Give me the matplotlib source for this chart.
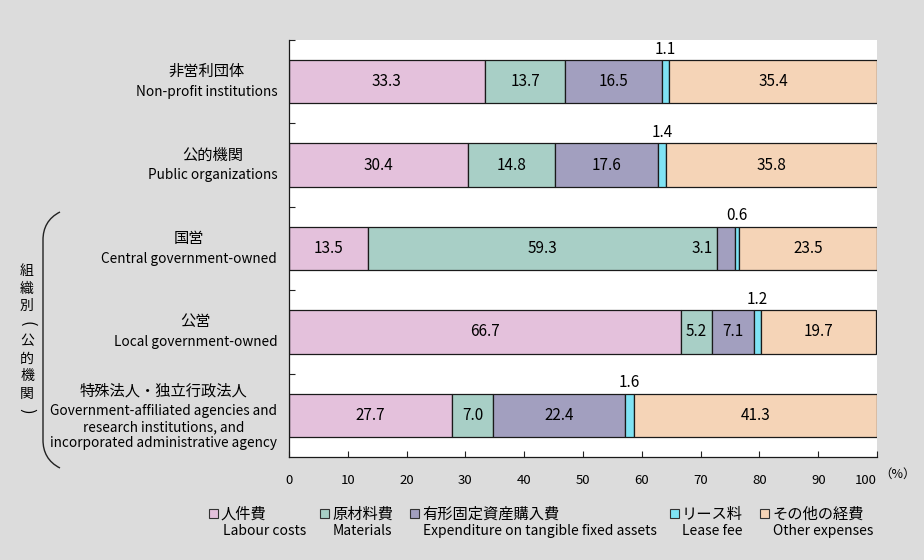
import matplotlib
matplotlib.use("Agg")
import matplotlib.pyplot as plt
from matplotlib.patches import Rectangle, PathPatch
from matplotlib.path import Path

plt.rcParams['font.family'] = ['Noto Sans CJK JP', 'DejaVu Sans']

categories_jp = ["非営利団体", "公的機関", "国営", "公営", "特殊法人・独立行政法人"]
categories_en = ["Non-profit institutions", "Public organizations",
                 "Central government-owned", "Local government-owned",
                 "Government-affiliated agencies and\nresearch institutions, and\nincorporated administrative agency"]
labour = [33.3, 30.4, 13.5, 66.7, 27.7]
materials = [13.7, 14.8, 59.3, 5.2, 7.0]
fixed_assets = [16.5, 17.6, 3.1, 7.1, 22.4]
lease = [1.1, 1.4, 0.6, 1.2, 1.6]
other = [35.4, 35.8, 23.5, 19.7, 41.3]
series_jp = ["人件費", "原材料費", "有形固定資産購入費", "リース料", "その他の経費"]
series_en = ["Labour costs", "Materials", "Expenditure on tangible fixed assets",
             "Lease fee", "Other expenses"]
colors = ["#e4c1dc", "#a8cfc6", "#a29fbf", "#7fe3f4", "#f5d4b7"]
xticks = [0, 10, 20, 30, 40, 50, 60, 70, 80, 90, 100]
group_label = "組織別(公的機関)"

W, H = 924, 560
PX = 72 / 100  # points per pixel at dpi 100
fig = plt.figure(figsize=(W / 100, H / 100), dpi=100, facecolor="#dcdcdc")
ax = fig.add_axes([289 / W, 1 - 457 / H, 588 / W, 417 / H])
ax.set_facecolor("white")

series = [labour, materials, fixed_assets, lease, other]
ypos = list(range(len(categories_jp)))
left = [0.0] * len(ypos)
for k, vals in enumerate(series):
    ax.barh(ypos, vals, left=left, height=0.52, color=colors[k],
            edgecolor="#1a1a1a", linewidth=0.9, zorder=2)
    for i, v in enumerate(vals):
        cx = left[i] + v / 2
        if k == 3:  # lease fee: label above the bar
            ax.text(cx, i - 0.39, f"{v:.1f}", ha="center", va="center", fontsize=11)
        elif v < 4:  # narrow segment: label to the left
            ax.text(left[i] - 0.8, i, f"{v:.1f}", ha="right", va="center", fontsize=11)
        else:
            ax.text(cx, i, f"{v:.1f}", ha="center", va="center", fontsize=11)
    left = [a + b for a, b in zip(left, vals)]

ax.set_xlim(0, 100)
ax.set_ylim(len(ypos) - 0.5, -0.5)
ax.set_xticks(xticks)
ax.set_xticklabels([str(t) for t in xticks], fontsize=9.5)
ax.get_xticklabels()[-1].set_horizontalalignment("right")
ax.set_yticks([y - 0.5 for y in ypos])
ax.set_yticklabels([])
ax.tick_params(axis="both", direction="in", length=4, width=0.8, color="#222222")
ax.tick_params(axis="x", pad=12)
for s in ("top", "right"):
    ax.spines[s].set_visible(False)
for s in ("left", "bottom"):
    ax.spines[s].set_color("#1a1a1a")
    ax.spines[s].set_linewidth(0.9)
ax.text(879 / W, 1 - 474 / H, "（%）", transform=fig.transFigure, fontsize=9,
        va="center", ha="left")

# category labels: english block right-aligned, japanese centred above it
renderer = fig.canvas.get_renderer()
for i in ypos:
    n_en = categories_en[i].count("\n") + 1
    en_down = 10 + (n_en - 1)
    jp_up = 10 + 7 * (n_en - 1)
    en = ax.annotate(categories_en[i], xy=(-0.02, i), xycoords=ax.get_yaxis_transform(),
                     xytext=(0, -en_down * PX), textcoords="offset points",
                     ha="right", va="center", multialignment="center",
                     fontsize=9.8, linespacing=1.2)
    bb = en.get_window_extent(renderer=renderer)
    cx = ax.transAxes.inverted().transform(((bb.x0 + bb.x1) / 2, 0))[0]
    ax.annotate(categories_jp[i], xy=(cx, i), xycoords=ax.get_yaxis_transform(),
                xytext=(0, jp_up * PX), textcoords="offset points",
                ha="center", va="center", fontsize=11)

# vertical group label (one character per line, brackets turned) and brace
n = len(group_label)
for j, ch in enumerate(group_label):
    turned = ch in "()"
    fig.text(27 / W, 1 - (341 + (j - (n - 1) / 2) * 17.5) / H, ch, ha="center",
             va="center", fontsize=12 if turned else 10, rotation=-90 if turned else 0)
pts = [(60, 212), (48, 218), (43, 228), (43, 240), (43, 440), (43, 452), (48, 462), (60, 468)]
codes = [Path.MOVETO, Path.CURVE4, Path.CURVE4, Path.CURVE4, Path.LINETO,
         Path.CURVE4, Path.CURVE4, Path.CURVE4]
verts = [(x / W, 1 - y / H) for x, y in pts]
fig.add_artist(PathPatch(Path(verts, codes), transform=fig.transFigure,
                         fill=False, lw=1.0, edgecolor="#222222"))

# legend
leg_sq = [209, 320, 410, 670, 760]
leg_en_x = [223, 333, 423, 682, 773]
for k in range(len(series_jp)):
    x0 = leg_sq[k]
    fig.add_artist(Rectangle((x0 / W, 1 - 518 / H), 9 / W, 9 / H, transform=fig.transFigure,
                             facecolor=colors[k], edgecolor="#333333", lw=0.8))
    fig.text((x0 + 12) / W, 1 - 514 / H, series_jp[k], ha="left", va="center", fontsize=11)
    fig.text(leg_en_x[k] / W, 1 - 531 / H, series_en[k], ha="left", va="center", fontsize=10)

fig.savefig("out.png", dpi=100, facecolor=fig.get_facecolor())
